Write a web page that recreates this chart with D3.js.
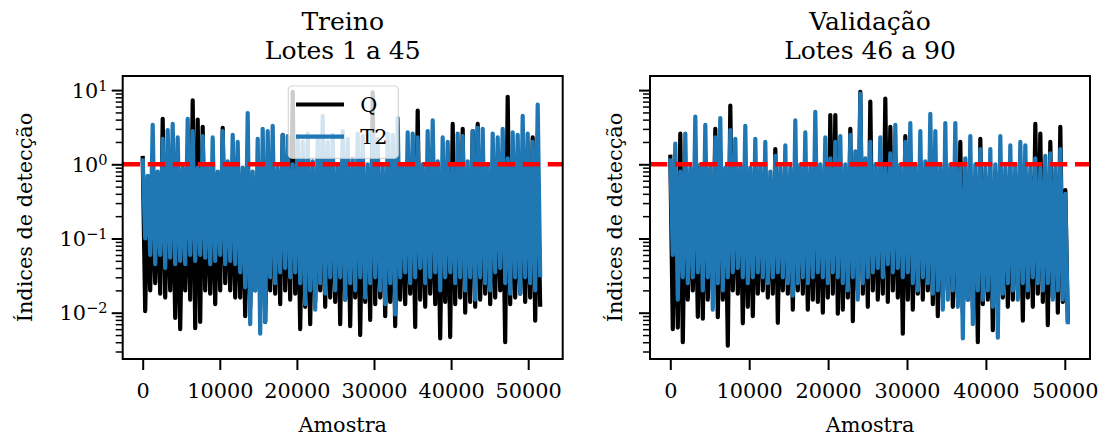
<!DOCTYPE html>
<html>
<head>
<meta charset="utf-8">
<script src="https://cdn.jsdelivr.net/npm/d3@7"></script>
<style>
    body { margin: 0; background: #ffffff; }
    svg text { font-family: 'DejaVu Serif', serif; fill: #000000; }
</style>
</head>
<body>
<svg id="chart" width="1106" height="439"></svg>
<script>

// titles / ticks
var panelTitles = [['Treino', 'Lotes 1 a 45'], ['Validação', 'Lotes 46 a 90']];
var xLabel = 'Amostra';
var yLabel = 'Índices de detecção';
var seriesNames = ['Q', 'T2'];
var nSamples = [51880, 50700];
var xTicks = [0, 10000, 20000, 30000, 40000, 50000];
var yTicks = [0.01, 0.1, 1, 10];
var yTickExp = ['\u22122', '\u22121', '0', '1'];
var threshold = 1;

// each series is read as 80 blocks of samples: highest and lowest value in each block
var treinoQHi = [1.3, 0.5, 0.6, 0.5, 4.1, 0.6, 0.8, 0.5, 0.6, 0.7,
    7.3, 4.0, 3.2, 0.6, 0.7, 0.5, 3.1, 0.6, 0.7, 0.5,
    0.6, 0.8, 0.5, 0.6, 0.7, 0.5, 0.6, 0.8, 2.5, 0.6,
    9.5, 0.6, 0.7, 0.5, 0.6, 0.9, 0.6, 0.7, 0.5, 0.6,
    0.8, 0.6, 0.5, 0.7, 0.6, 0.5, 9.3, 0.6, 0.7, 0.5,
    0.6, 0.8, 0.6, 0.6, 0.7, 5.3, 0.6, 0.7, 0.6, 0.5,
    0.8, 0.6, 3.5, 0.6, 3.0, 0.7, 2.8, 3.5, 0.6, 0.7,
    0.6, 0.8, 0.6, 8.1, 0.6, 0.7, 0.6, 0.6, 2.3, 0.7];
var treinoQLo = [0.0105, 0.02, 0.025, 0.018, 0.016, 0.02, 0.0085, 0.006, 0.02, 0.015,
    0.0062, 0.0075, 0.02, 0.018, 0.013, 0.02, 0.025, 0.02, 0.016, 0.016,
    0.009, 0.012, 0.02, 0.015, 0.0075, 0.02, 0.018, 0.013, 0.02, 0.015,
    0.018, 0.006, 0.012, 0.007, 0.014, 0.02, 0.012, 0.016, 0.014, 0.007,
    0.015, 0.0066, 0.016, 0.005, 0.014, 0.008, 0.013, 0.016, 0.009, 0.014,
    0.0066, 0.015, 0.013, 0.018, 0.0064, 0.015, 0.012, 0.018, 0.013, 0.0045,
    0.014, 0.0047, 0.013, 0.016, 0.01, 0.014, 0.012, 0.015, 0.018, 0.013,
    0.016, 0.02, 0.004, 0.013, 0.016, 0.018, 0.014, 0.016, 0.0078, 0.012];
var treinoT2Hi = [1.2, 0.7, 3.4, 0.8, 2.2, 2.9, 3.5, 2.3, 0.9, 4.1,
    2.8, 0.9, 2.4, 1.0, 2.3, 0.8, 2.8, 1.1, 2.5, 2.0,
    0.9, 4.9, 0.8, 2.2, 3.0, 2.8, 3.3, 0.9, 2.5, 2.4,
    1.0, 2.4, 2.0, 2.6, 1.1, 2.4, 4.5, 2.0, 2.5, 1.0,
    2.8, 2.2, 1.2, 2.6, 2.4, 1.0, 2.7, 2.2, 1.0, 2.6,
    2.5, 4.2, 1.0, 2.7, 2.6, 2.3, 1.0, 2.8, 3.9, 1.1,
    2.3, 2.0, 1.0, 2.6, 2.4, 1.1, 2.8, 3.1, 3.0, 1.0,
    2.6, 2.3, 3.0, 1.2, 2.7, 2.5, 4.5, 2.6, 2.0, 6.4];
var treinoT2Lo = [0.10, 0.06, 0.045, 0.06, 0.04, 0.055, 0.045, 0.05, 0.045, 0.06,
    0.05, 0.06, 0.055, 0.045, 0.05, 0.06, 0.045, 0.05, 0.045, 0.035,
    0.022, 0.007, 0.02, 0.0052, 0.0075, 0.03, 0.025, 0.035, 0.04, 0.03,
    0.035, 0.025, 0.013, 0.02, 0.011, 0.025, 0.018, 0.03, 0.02, 0.03,
    0.015, 0.025, 0.02, 0.03, 0.016, 0.025, 0.03, 0.02, 0.013, 0.025,
    0.0095, 0.03, 0.035, 0.025, 0.03, 0.04, 0.025, 0.03, 0.035, 0.02,
    0.03, 0.035, 0.025, 0.03, 0.02, 0.03, 0.015, 0.03, 0.025, 0.02,
    0.035, 0.04, 0.025, 0.018, 0.03, 0.018, 0.03, 0.025, 0.02, 0.03];

var validQHi = [1.35, 0.6, 2.6, 0.7, 0.6, 0.8, 0.6, 0.7, 0.6, 3.0,
    0.7, 0.6, 6.2, 0.7, 0.6, 0.8, 0.6, 0.7, 0.5, 0.7,
    0.6, 1.6, 0.6, 0.7, 0.6, 0.8, 0.6, 0.7, 0.6, 0.8,
    0.6, 0.7, 4.6, 4.6, 0.7, 0.6, 3.0, 0.7, 9.5, 0.8,
    7.0, 0.7, 0.6, 7.7, 3.2, 0.7, 0.6, 2.4, 0.7, 0.6,
    0.8, 0.7, 0.6, 0.7, 0.6, 0.8, 0.6, 0.7, 2.0, 0.6,
    0.7, 0.6, 2.2, 0.7, 0.6, 0.8, 0.6, 0.7, 0.6, 0.7,
    0.6, 0.8, 0.7, 3.5, 2.6, 0.7, 2.0, 0.7, 3.2, 0.45];
var validQLo = [0.006, 0.0063, 0.004, 0.015, 0.02, 0.0088, 0.0083, 0.015, 0.02, 0.0087,
    0.015, 0.0036, 0.02, 0.018, 0.0072, 0.012, 0.009, 0.018, 0.02, 0.016,
    0.018, 0.0073, 0.02, 0.018, 0.011, 0.02, 0.018, 0.011, 0.015, 0.014,
    0.010, 0.016, 0.018, 0.0097, 0.011, 0.016, 0.0077, 0.02, 0.018, 0.012,
    0.02, 0.015, 0.018, 0.014, 0.02, 0.016, 0.0052, 0.015, 0.011, 0.018,
    0.015, 0.02, 0.013, 0.009, 0.016, 0.02, 0.012, 0.016, 0.01, 0.015,
    0.012, 0.004, 0.013, 0.015, 0.0058, 0.014, 0.016, 0.012, 0.015, 0.02,
    0.0078, 0.016, 0.012, 0.018, 0.014, 0.0068, 0.016, 0.01, 0.014, 0.0075];
var validT2Hi = [1.2, 1.9, 0.8, 2.6, 0.9, 4.4, 1.0, 3.4, 0.9, 2.3,
    4.2, 0.9, 2.9, 2.2, 1.0, 3.3, 0.9, 2.2, 1.0, 2.0,
    0.8, 1.3, 0.9, 1.8, 0.9, 3.9, 1.0, 2.7, 0.9, 5.1,
    1.0, 2.3, 1.2, 2.0, 2.4, 1.0, 2.5, 1.5, 9.0, 1.2,
    2.0, 1.0, 2.3, 1.0, 1.4, 3.4, 1.0, 2.0, 3.6, 1.0,
    2.8, 1.1, 4.8, 2.8, 1.0, 3.6, 1.0, 3.6, 0.9, 1.2,
    2.4, 1.0, 1.6, 0.9, 1.6, 1.0, 2.4, 0.9, 1.8, 1.0,
    2.0, 1.8, 0.9, 1.2, 0.9, 1.3, 1.4, 0.9, 1.6, 0.4];
var validT2Lo = [0.06, 0.015, 0.03, 0.025, 0.03, 0.035, 0.02, 0.03, 0.011, 0.025,
    0.02, 0.03, 0.035, 0.04, 0.03, 0.025, 0.03, 0.035, 0.03, 0.025,
    0.03, 0.035, 0.03, 0.025, 0.017, 0.025, 0.03, 0.025, 0.03, 0.035,
    0.03, 0.025, 0.035, 0.03, 0.025, 0.02, 0.03, 0.015, 0.025, 0.03,
    0.035, 0.04, 0.03, 0.045, 0.035, 0.04, 0.03, 0.035, 0.025, 0.02,
    0.03, 0.025, 0.018, 0.02, 0.011, 0.015, 0.02, 0.012, 0.0045, 0.015,
    0.007, 0.02, 0.015, 0.02, 0.012, 0.0046, 0.018, 0.025, 0.02, 0.015,
    0.025, 0.02, 0.03, 0.025, 0.02, 0.025, 0.015, 0.02, 0.015, 0.007];

var COLORS = { Q: '#000000', T2: '#1f77b4', limit: '#ff0000' };
var FONT = 20.8;

var svg = d3.select('#chart');
svg.append('rect').attr('width', 1106).attr('height', 439).attr('fill', '#ffffff');

// block series -> points going up to the high and down to the low of every block
var toPoints = function (hi, lo, n) {
    var step = n / hi.length;
    var pts = [];
    hi.forEach(function (h, i) {
        pts.push([i * step, h]);
        pts.push([(i + 0.5) * step, lo[i]]);
    });
    return pts;
}

var supLabel = function (sel) {
    sel.each(function (d, i) {
        var t = d3.select(this);
        var k = yTicks.indexOf(d);
        t.text('10');
        t.append('tspan')
            .attr('dy', '-0.5em')
            .attr('font-size', FONT * 0.7)
            .text(yTickExp[k]);
    });
}

function panel(cfg) {
    var left = cfg.left, right = cfg.right, top = 76, bottom = 359;

    var x = d3.scaleLinear().domain(cfg.xDomain).range([left, right]);
    var y = d3.scaleLog().domain([Math.pow(10, -2.624), Math.pow(10, 1.190)]).range([bottom, top]);

    var g = svg.append('g').attr('class', 'panel');

    g.append('clipPath')
        .attr('id', 'clip' + cfg.id)
        .append('rect')
        .attr('x', left).attr('y', top)
        .attr('width', right - left).attr('height', bottom - top);

    var plot = g.append('g').attr('clip-path', 'url(#clip' + cfg.id + ')');

    var line = d3.line()
        .x(function (d) { return x(d[0]); })
        .y(function (d) { return y(d[1]); });

    cfg.series.forEach(function (s) {
        plot.append('path')
            .datum(toPoints(s.hi, s.lo, cfg.n))
            .attr('d', line)
            .attr('fill', 'none')
            .attr('stroke', COLORS[s.name])
            .attr('stroke-width', 4.2)
            .attr('stroke-linejoin', 'round')
            .attr('stroke-linecap', 'butt');
    });

    plot.append('line')
        .attr('x1', left).attr('x2', right)
        .attr('y1', y(threshold)).attr('y2', y(threshold))
        .attr('stroke', COLORS.limit)
        .attr('stroke-width', 4.4)
        .attr('stroke-dasharray', '17.3 7.7');

    // x axis
    var xAxis = g.append('g')
        .attr('transform', 'translate(0,' + bottom + ')')
        .call(d3.axisBottom(x).tickValues(xTicks).tickSize(11).tickPadding(13.5).tickSizeOuter(0)
            .tickFormat(d3.format('d')));
    xAxis.select('.domain').remove();
    xAxis.selectAll('line').attr('stroke-width', 2);
    xAxis.selectAll('text').attr('font-size', FONT).attr('font-family', 'DejaVu Serif');

    // y axis, minor ticks first
    var minor = y.ticks().filter(function (v) { return yTicks.indexOf(v) < 0; });
    var yMinor = g.append('g')
        .attr('transform', 'translate(' + left + ',0)')
        .call(d3.axisLeft(y).tickValues(minor).tickSize(7).tickFormat('').tickSizeOuter(0));
    yMinor.select('.domain').remove();
    yMinor.selectAll('line').attr('stroke-width', 1.5);

    var yAxis = g.append('g')
        .attr('transform', 'translate(' + left + ',0)')
        .call(d3.axisLeft(y).tickValues(yTicks).tickSize(11).tickPadding(4.2).tickSizeOuter(0));
    yAxis.select('.domain').remove();
    yAxis.selectAll('line').attr('stroke-width', 2);
    if (cfg.showYTicks) {
        yAxis.selectAll('text')
            .attr('font-size', FONT)
            .attr('font-family', 'DejaVu Serif')
            .attr('dy', '0.35em')
            .call(supLabel);
    } else {
        yAxis.selectAll('text').remove();
    }

    // frame
    g.append('rect')
        .attr('x', left).attr('y', top)
        .attr('width', right - left).attr('height', bottom - top)
        .attr('fill', 'none')
        .attr('stroke', '#000')
        .attr('stroke-width', 2);

    var cx = (left + right) / 2;

    g.append('text')
        .attr('x', cx).attr('y', 30)
        .attr('text-anchor', 'middle')
        .attr('font-size', 25)
        .text(cfg.title[0]);
    g.append('text')
        .attr('x', cx).attr('y', 58.5)
        .attr('text-anchor', 'middle')
        .attr('font-size', 25)
        .text(cfg.title[1]);

    g.append('text')
        .attr('x', cx).attr('y', 431.5)
        .attr('text-anchor', 'middle')
        .attr('font-size', FONT)
        .text(xLabel);

    g.append('text')
        .attr('transform', 'translate(' + cfg.yLabelX + ',' + ((top + bottom) / 2) + ') rotate(-90)')
        .attr('text-anchor', 'middle')
        .attr('font-size', FONT)
        .text(yLabel);

    if (cfg.legend) {
        var lg = g.append('g').attr('transform', 'translate(288.3,86)');
        lg.append('rect')
            .attr('width', 110).attr('height', 72.3)
            .attr('rx', 4).attr('ry', 4)
            .attr('fill', '#ffffff').attr('fill-opacity', 0.8)
            .attr('stroke', '#cccccc').attr('stroke-opacity', 0.8)
            .attr('stroke-width', 1.2);
        seriesNames.forEach(function (name, i) {
            var ly = 18.5 + i * 32.2;
            lg.append('line')
                .attr('x1', 7.7).attr('x2', 55.7)
                .attr('y1', ly).attr('y2', ly)
                .attr('stroke', COLORS[name])
                .attr('stroke-width', 4.2);
            lg.append('text')
                .attr('x', 72).attr('y', ly + 7.3)
                .attr('font-size', FONT)
                .text(name);
        });
    }
}

panel({
    id: 0, left: 122.7, right: 562.7, xDomain: [-2594, 54475], n: nSamples[0],
    title: panelTitles[0], showYTicks: true, yLabelX: 32, legend: true,
    series: [
        { name: 'Q', hi: treinoQHi, lo: treinoQLo },
        { name: 'T2', hi: treinoT2Hi, lo: treinoT2Lo }
    ]
});

panel({
    id: 1, left: 650, right: 1090, xDomain: [-2573, 53194], n: nSamples[1],
    title: panelTitles[1], showYTicks: false, yLabelX: 621.7, legend: false,
    series: [
        { name: 'Q', hi: validQHi, lo: validQLo },
        { name: 'T2', hi: validT2Hi, lo: validT2Lo }
    ]
});

</script>
</body>
</html>
